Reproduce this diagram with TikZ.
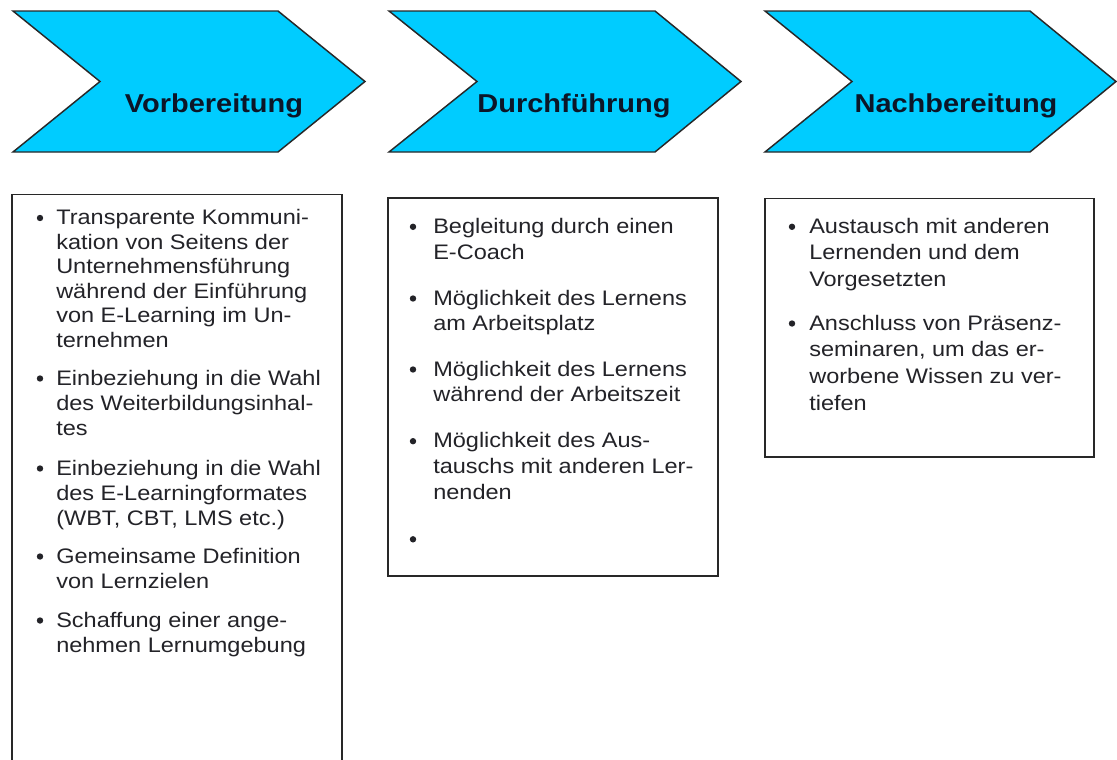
\documentclass[tikz,border=0pt]{standalone}
\usepackage{fontspec}
\setmainfont{Liberation Sans}[FakeStretch=1.12]
\definecolor{chevcyan}{RGB}{0,204,255}
\definecolor{edgegray}{RGB}{40,40,40}
\definecolor{titleink}{RGB}{12,22,40}
\definecolor{bodyink}{RGB}{35,35,40}
\begin{document}
\begin{tikzpicture}[x=0.75pt,y=-0.75pt,
  chevron/.style={fill=chevcyan, draw=edgegray, line width=1.1pt, line join=miter},
  panel/.style={draw=edgegray, line width=1.1pt},
  phase/.style={anchor=base, inner sep=0pt, text=titleink,
    font=\fontsize{19.4}{22}\selectfont\bfseries},
  entry/.style={anchor=base west, inner sep=0pt, text=bodyink,
    font=\fontsize{15.75}{18}\selectfont},
  dot/.style={fill=bodyink}]
\useasboundingbox (0,0) rectangle (1117,760);
\fill[white] (0,0) rectangle (1117,760);

% phase chevrons
\draw[chevron] (13,11) -- (278,11) -- (365,81.5) -- (278,152) -- (13,152) -- (100,81.5) -- cycle;
\draw[chevron] (389,11) -- (655,11) -- (741,81.5) -- (655,152) -- (389,152) -- (477,81.5) -- cycle;
\draw[chevron] (765,11) -- (1030,11) -- (1116,81.5) -- (1030,152) -- (765,152) -- (852,81.5) -- cycle;
\node[phase] (ph1) at (214,112.5) {Vorbereitung};
\node[phase] (ph2) at (574,112.5) {Durchführung};
\node[phase] (ph3) at (956,112.5) {Nachbereitung};

% content panels
\draw[panel] (12,764) -- (12,194.5) -- (342,194.5) -- (342,764);
\draw[panel] (388,198) rectangle (718,576);
\draw[panel] (765,198.5) rectangle (1094,457);

% panel 1
\node[entry] (a1) at (56,224.5) {Transparente Kommuni-};
\node[entry] (a2) at (56,249.1) {kation von Seitens der};
\node[entry] (a3) at (56,273.7) {Unternehmensführung};
\node[entry] (a4) at (56,298.3) {während der Einführung};
\node[entry] (a5) at (56,322.9) {von E-Learning im Un-};
\node[entry] (a6) at (56,347.5) {ternehmen};
\node[entry] (a7) at (56,385) {Einbeziehung in die Wahl};
\node[entry] (a8) at (56,410) {des Weiterbildungsinhal-};
\node[entry] (a9) at (56,435) {tes};
\node[entry] (a10) at (56,475) {Einbeziehung in die Wahl};
\node[entry] (a11) at (56,500) {des E-Learningformates};
\node[entry] (a12) at (56,525) {(WBT, CBT, LMS etc.)};
\node[entry] (a13) at (56,563) {Gemeinsame Definition};
\node[entry] (a14) at (56,588) {von Lernzielen};
\node[entry] (a15) at (56,627) {Schaffung einer ange-};
\node[entry] (a16) at (56,652) {nehmen Lernumgebung};
\foreach \yy in {218,378.5,468.5,556.5,620.5}
  \fill[dot] (40,\yy) circle[radius=2.4pt];

% panel 2
\node[entry] (b1) at (433,233.3) {Begleitung durch einen};
\node[entry] (b2) at (433,259) {E-Coach};
\node[entry] (b3) at (433,305) {Möglichkeit des Lernens};
\node[entry] (b4) at (433,330.5) {am Arbeitsplatz};
\node[entry] (b5) at (433,376) {Möglichkeit des Lernens};
\node[entry] (b6) at (433,401.7) {während der Arbeitszeit};
\node[entry] (b7) at (433,447.7) {Möglichkeit des Aus-};
\node[entry] (b8) at (433,473.3) {tauschs mit anderen Ler-};
\node[entry] (b9) at (433,499) {nenden};
\foreach \yy in {226.8,298.5,369.5,441.2,539.3}
  \fill[dot] (413,\yy) circle[radius=2.4pt];

% panel 3
\node[entry] (c1) at (809,233.3) {Austausch mit anderen};
\node[entry] (c2) at (809,259.7) {Lernenden und dem};
\node[entry] (c3) at (809,286.3) {Vorgesetzten};
\node[entry] (c4) at (809,330) {Anschluss von Präsenz-};
\node[entry] (c5) at (809,356.7) {seminaren, um das er-};
\node[entry] (c6) at (809,383.3) {worbene Wissen zu ver-};
\node[entry] (c7) at (809,410) {tiefen};
\foreach \yy in {226.8,323.5}
  \fill[dot] (792,\yy) circle[radius=2.4pt];
\end{tikzpicture}
\end{document}
